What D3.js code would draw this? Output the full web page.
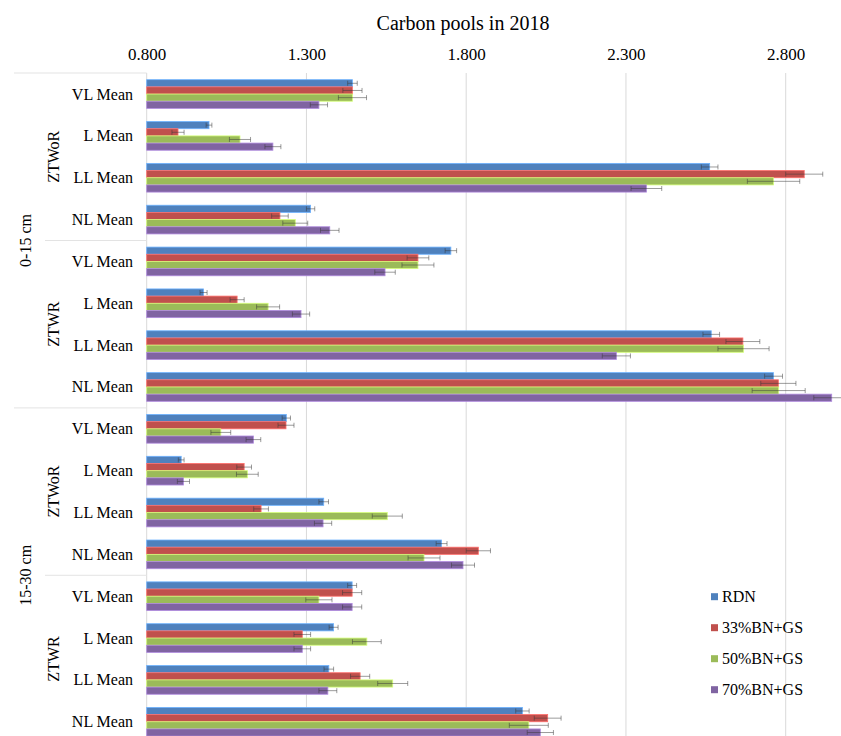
<!DOCTYPE html>
<html>
<head>
<meta charset="utf-8">
<script src="https://cdn.jsdelivr.net/npm/d3@7"></script>
<style>
  html, body { margin: 0; padding: 0; background: #fff; }
  svg { display: block; font-family: "Liberation Serif", "Times New Roman", serif; }
</style>
</head>
<body>
<svg id="chart" width="841" height="736"></svg>
<script>
// ---------------- data ----------------
const title = "Carbon pools in 2018";
const categories = ["VL Mean", "L Mean", "LL Mean", "NL Mean"];
const tillage = ["ZTWoR", "ZTWR"];
const depths = ["0-15 cm", "15-30 cm"];
const seriesNames = ["RDN", "33%BN+GS", "50%BN+GS", "70%BN+GS"];
const seriesColors = ["#4F81BD", "#C0504D", "#9BBB59", "#8064A2"];
const tickValues = [0.8, 1.3, 1.8, 2.3, 2.8];

// row order: 0-15 ZTWoR (VL,L,LL,NL), 0-15 ZTWR, 15-30 ZTWoR, 15-30 ZTWR
const rdn  = [1.444, 0.995, 2.562, 1.313, 1.752, 0.978, 2.567, 2.762, 1.237, 0.908, 1.354, 1.723, 1.443, 1.385, 1.370, 1.976];
const bn33 = [1.444, 0.898, 2.858, 1.217, 1.649, 1.083, 2.666, 2.777, 1.236, 1.105, 1.158, 1.838, 1.443, 1.287, 1.468, 2.055];
const bn50 = [1.444, 1.092, 2.762, 1.265, 1.649, 1.180, 2.668, 2.778, 1.032, 1.115, 1.553, 1.668, 1.339, 1.489, 1.570, 1.996];
const bn70 = [1.339, 1.195, 2.364, 1.373, 1.546, 1.283, 2.270, 2.944, 1.134, 0.915, 1.352, 1.790, 1.443, 1.287, 1.367, 2.032];

const rdnErr  = [0.015, 0.009, 0.026, 0.013, 0.018, 0.011, 0.026, 0.028, 0.013, 0.009, 0.015, 0.017, 0.014, 0.014, 0.015, 0.021];
const bn33Err = [0.030, 0.019, 0.058, 0.026, 0.034, 0.022, 0.053, 0.055, 0.025, 0.023, 0.023, 0.038, 0.030, 0.026, 0.030, 0.042];
const bn50Err = [0.044, 0.033, 0.082, 0.039, 0.050, 0.036, 0.080, 0.083, 0.031, 0.034, 0.047, 0.050, 0.041, 0.045, 0.047, 0.061];
const bn70Err = [0.027, 0.025, 0.048, 0.029, 0.032, 0.027, 0.044, 0.056, 0.023, 0.019, 0.027, 0.036, 0.030, 0.026, 0.028, 0.041];

// ---------------- build table ----------------
const seriesValues = [rdn, bn33, bn50, bn70];
const seriesErrors = [rdnErr, bn33Err, bn50Err, bn70Err];
const rows = [];
depths.forEach((dep, di) => tillage.forEach((til, ti) => categories.forEach((cat, ci) => {
  rows.push({ idx: rows.length, depth: dep, tillage: til, category: cat });
})));
const bars = [];
rows.forEach(r => seriesNames.forEach((s, si) => {
  bars.push({ row: r.idx, series: s, si, value: seriesValues[si][r.idx], err: seriesErrors[si][r.idx] });
}));

// ---------------- layout ----------------
const svg = d3.select("#chart");
const plotTop = 73, plotBottom = 742.8, plotLeft = 146.7;

const x = d3.scaleLinear().domain([0.8, 3.0]).range([plotLeft, plotLeft + 2.2 * 319.5]);
const y = d3.scaleBand().domain(rows.map(r => r.idx)).range([plotTop, plotBottom])
  .paddingInner(0.314).paddingOuter(0.16);
const ySub = d3.scaleBand().domain(seriesNames).range([0, y.bandwidth()]);
const color = d3.scaleOrdinal().domain(seriesNames).range(seriesColors);

const step = y.step();
const boundary = k => (k < rows.length ? y(k) - step * y.paddingInner() / 2 : y(rows.length - 1) + y.bandwidth() + step * y.paddingInner() / 2);

// title
svg.append("text")
  .attr("x", 463).attr("y", 30)
  .attr("text-anchor", "middle")
  .attr("font-size", 20).attr("fill", "#000")
  .text(title);

// gridlines
svg.append("g").selectAll("line").data(tickValues).join("line")
  .attr("x1", d => x(d)).attr("x2", d => x(d))
  .attr("y1", plotTop).attr("y2", 736)
  .attr("stroke", "#d9d9d9").attr("stroke-width", 1);

// top axis labels
const axis = d3.axisTop(x).tickValues(tickValues).tickFormat(d3.format(".3f")).tickSize(0).tickPadding(13);
const ax = svg.append("g").attr("transform", `translate(0,${plotTop})`).call(axis);
ax.select(".domain").remove();
ax.selectAll("text").attr("font-size", 17).attr("font-family", "Liberation Serif, serif").attr("fill", "#000");

// bars
svg.append("g").selectAll("rect").data(bars).join("rect")
  .attr("x", x(0.8))
  .attr("y", d => y(d.row) + ySub(d.series))
  .attr("width", d => x(d.value) - x(0.8))
  .attr("height", ySub.bandwidth())
  .attr("fill", d => color(d.series))
  .attr("stroke", d => d3.color(color(d.series)).brighter(0.9))
  .attr("stroke-width", 0.8);

// error bars
const eg = svg.append("g").attr("stroke", "#3a3a3a").attr("stroke-opacity", 0.5).attr("stroke-width", 1);
eg.selectAll("line.h").data(bars).join("line").attr("class", "h")
  .attr("x1", d => x(d.value - d.err)).attr("x2", d => x(d.value + d.err))
  .attr("y1", d => y(d.row) + ySub(d.series) + ySub.bandwidth() / 2)
  .attr("y2", d => y(d.row) + ySub(d.series) + ySub.bandwidth() / 2);
["lo", "hi"].forEach(side => {
  eg.selectAll("line.c" + side).data(bars).join("line").attr("class", "c" + side)
    .attr("x1", d => x(side === "lo" ? d.value - d.err : d.value + d.err))
    .attr("x2", d => x(side === "lo" ? d.value - d.err : d.value + d.err))
    .attr("y1", d => y(d.row) + ySub(d.series) + ySub.bandwidth() / 2 - 2.5)
    .attr("y2", d => y(d.row) + ySub(d.series) + ySub.bandwidth() / 2 + 2.5);
});

// category labels
svg.append("g").selectAll("text").data(rows).join("text")
  .attr("x", 133)
  .attr("y", d => y(d.idx) + y.bandwidth() / 2)
  .attr("text-anchor", "end")
  .attr("dominant-baseline", "central")
  .attr("font-size", 16).attr("fill", "#000")
  .text(d => d.category);

// separators in label area
const sep = svg.append("g").attr("stroke", "#e3e3e3").attr("stroke-width", 1);
sep.append("line").attr("x1", 14).attr("x2", plotLeft).attr("y1", plotTop).attr("y2", plotTop);
const nCat = categories.length, nTil = tillage.length;
for (let k = nCat; k < rows.length; k += nCat) {
  const yy = boundary(k);
  const isDepth = k % (nCat * nTil) === 0;
  sep.append("line").attr("x1", isDepth ? 14 : 45).attr("x2", plotLeft).attr("y1", yy).attr("y2", yy);
}

// tillage labels
const tilGroups = [];
depths.forEach((dep, di) => tillage.forEach((til, ti) => {
  const start = (di * nTil + ti) * nCat;
  tilGroups.push({ name: til, y0: boundary(start), y1: boundary(start + nCat) });
}));
svg.append("g").selectAll("text").data(tilGroups).join("text")
  .attr("transform", d => `translate(53,${(d.y0 + d.y1) / 2}) rotate(-90)`)
  .attr("text-anchor", "middle").attr("dominant-baseline", "central")
  .attr("font-size", 16).attr("fill", "#000")
  .text(d => d.name);

// depth labels
const depGroups = depths.map((dep, di) => ({ name: dep, y0: boundary(di * nTil * nCat), y1: boundary((di + 1) * nTil * nCat) }));
svg.append("g").selectAll("text").data(depGroups).join("text")
  .attr("transform", d => `translate(25,${(d.y0 + d.y1) / 2}) rotate(-90)`)
  .attr("text-anchor", "middle").attr("dominant-baseline", "central")
  .attr("font-size", 16).attr("fill", "#000")
  .text(d => d.name);

// legend
const lg = svg.append("g").selectAll("g").data(seriesNames).join("g")
  .attr("transform", (d, i) => `translate(711,${596.7 + i * 31})`);
lg.append("rect").attr("x", 0).attr("y", -3.5).attr("width", 7).attr("height", 7)
  .attr("fill", d => color(d));
lg.append("text").attr("x", 11).attr("y", 0)
  .attr("dominant-baseline", "central")
  .attr("font-size", 16).attr("fill", "#000")
  .text(d => d);
</script>
</body>
</html>
